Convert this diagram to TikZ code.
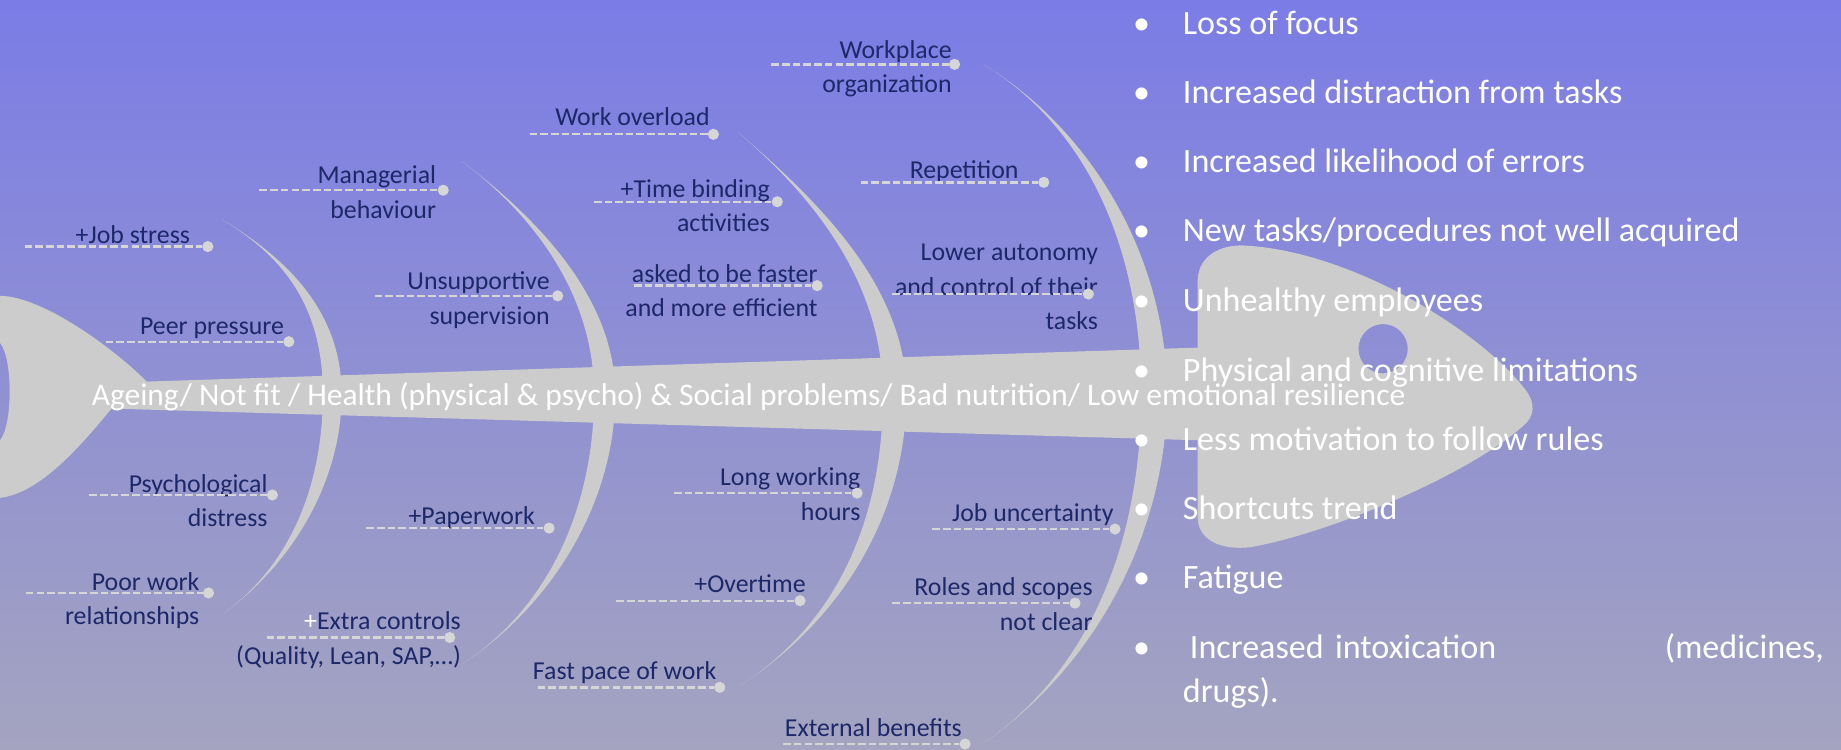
\documentclass[tikz,border=0pt]{standalone}
\usepackage{fontspec}
\setmainfont{Carlito}
\definecolor{skytop}{RGB}{123,124,230}
\definecolor{skybottom}{RGB}{164,164,192}
\definecolor{fishgrey}{RGB}{204,204,204}
\definecolor{causeblue}{RGB}{28,40,104}
\definecolor{leadgrey}{RGB}{214,214,214}

\begin{document}
\begin{tikzpicture}[
  x=1pt,y=-1pt,
  bone/.style={fill=fishgrey},
  cause/.style={text=causeblue,font=\fontsize{22}{29.5}\selectfont,align=right,anchor=base east,inner sep=0pt},
  tick/.style={circle,fill=leadgrey,minimum size=9.5pt,inner sep=0pt},
  lead/.style={draw=leadgrey,line width=2pt,dash pattern=on 6.5pt off 2.6pt},
  effect/.style={text=white,font=\fontsize{29}{38}\selectfont,anchor=base west,inner sep=0pt},
  bul/.style={text=white,font=\fontsize{29}{38}\selectfont,anchor=base,inner sep=0pt},
  spinetext/.style={text=white,font=\fontsize{26.8}{32}\selectfont,anchor=base west,inner sep=0pt},
]
\useasboundingbox (0,0) rectangle (1568,638);
\shade[top color=skytop,bottom color=skybottom] (0,0) rectangle (1568,638);

% ribs, top tip -> spine -> bottom tip and back
\fill[bone] (189,187) .. controls (248,222) and (291,268) .. (291,336)
  .. controls (291,409) and (250,479) .. (191,522)
  .. controls (250,479) and (275,409) .. (275,336)
  .. controls (275,268) and (248,222) .. cycle;
\fill[bone] (393,137) .. controls (458,186) and (524,254) .. (524,336)
  .. controls (524,428) and (470,516) .. (393,566)
  .. controls (470,516) and (506,428) .. (506,336)
  .. controls (506,254) and (458,186) .. cycle;
\fill[bone] (629,113) .. controls (698,172) and (772,245) .. (772,336)
  .. controls (772,438) and (716,529) .. (630,584)
  .. controls (716,529) and (752,438) .. (752,336)
  .. controls (752,245) and (698,172) .. cycle;
\fill[bone] (838,55) .. controls (934,114) and (994,224) .. (994,336)
  .. controls (994,452) and (934,566) .. (839,632)
  .. controls (934,566) and (972,452) .. (972,336)
  .. controls (972,224) and (934,114) .. cycle;

% tail and backbone
\fill[bone] (0,252) .. controls (35,252) and (95,295) .. (125,325) -- (1022,296)
  -- (1022,375) -- (95,348) .. controls (70,378) and (35,420) .. (0,424)
  -- (0,375) .. controls (11,362) and (11,305) .. (0,292) -- cycle;

% head, eye cut out
\fill[bone,even odd rule] (1020,296) -- (1020,240) .. controls (1020,220) and (1036,209) .. (1058,209)
  .. controls (1150,213) and (1262,282) .. (1300,333)
  .. controls (1308,344) and (1307,355) .. (1297,363)
  .. controls (1250,405) and (1130,455) .. (1065,466)
  .. controls (1040,469) and (1020,460) .. (1020,440) -- cycle
  (1178,297) circle (21);

\node[spinetext] (spine) at (78,345) {Ageing/ Not fit / Health (physical \& psycho) \& Social problems/ Bad nutrition/ Low emotional resilience};

% causes (multi-line labels sit on their last baseline)
\node[cause] (jstl) at (162,207) {+Job stress};
\node[tick] (jst) at (177,210) {}; \coordinate (jst0) at (21,210);
\node[cause] (peerl) at (242,284.6) {Peer pressure};
\node[tick] (peer) at (246,291) {}; \coordinate (peer0) at (90,291);
\node[cause] (psyl) at (228,448.6) {Psychological\\distress};
\node[tick] (psy) at (232,421.6) {}; \coordinate (psy0) at (76,421.6);
\node[cause] (poorl) at (170,532) {Poor work\\relationships};
\node[tick] (poor) at (177.6,505) {}; \coordinate (poor0) at (22,505);
\node[cause] (mgrl) at (371.6,186) {Managerial\\behaviour};
\node[tick] (mgr) at (377.5,162) {}; \coordinate (mgr0) at (221,162);
\node[cause] (unsl) at (468.4,276) {Unsupportive\\supervision};
\node[tick] (uns) at (475,252) {}; \coordinate (uns0) at (319,252);
\node[cause] (papl) at (455.7,447) {+Paperwork};
\node[tick] (pap) at (467.7,449.8) {}; \coordinate (pap0) at (312,449.8);
\node[cause] (xtrl) at (392.7,566) {{\color{white}+}Extra controls\\(Quality, Lean, SAP,…)};
\node[tick] (xtr) at (383,543) {}; \coordinate (xtr0) at (227,543);
\node[cause] (ovll) at (604.6,107) {Work overload};
\node[tick] (ovl) at (607.6,114.4) {}; \coordinate (ovl0) at (451,114.4);
\node[cause] (tbdl) at (655.8,197.3) {+Time binding\\activities};
\node[tick] (tbd) at (662,171.8) {}; \coordinate (tbd0) at (506,171.8);
\node[cause] (fstl) at (696.5,269.7) {asked to be faster\\and more efficient};
\node[tick] (fst) at (696,243.3) {}; \coordinate (fst0) at (540,243.3);
\node[cause] (lngl) at (733,443) {Long working\\hours};
\node[tick] (lng) at (730,420) {}; \coordinate (lng0) at (574,420);
\node[cause] (ovtl) at (686.3,505) {+Overtime};
\node[tick] (ovt) at (681.4,511.6) {}; \coordinate (ovt0) at (525,511.6);
\node[cause] (pacl) at (610.3,579) {Fast pace of work};
\node[tick] (pac) at (613,585.4) {}; \coordinate (pac0) at (458,585.4);
\node[cause] (wpol) at (810.7,79) {Workplace\\organization};
\node[tick] (wpo) at (813,54.8) {}; \coordinate (wpo0) at (657,54.8);
\node[cause] (repl) at (867.6,152) {Repetition};
\node[tick] (rep) at (889,155.3) {}; \coordinate (rep0) at (733,155.3);
\node[cause] (autl) at (935.4,281) {Lower autonomy\\and control of their\\tasks};
\node[tick] (aut) at (927,250.4) {}; \coordinate (aut0) at (760,250.4);
\node[cause] (jobl) at (948.6,444) {Job uncertainty};
\node[tick] (job) at (949.7,450.6) {}; \coordinate (job0) at (794,450.6);
\node[cause] (roll) at (930.8,536.6) {Roles and scopes\\not clear};
\node[tick] (rol) at (915.6,513.7) {}; \coordinate (rol0) at (760,513.7);
\node[cause] (extl) at (819.4,627.4) {External benefits};
\node[tick] (ext) at (822,633.7) {}; \coordinate (ext0) at (667,633.7);

\draw[lead] (jst0) -- (jst); \draw[lead] (peer0) -- (peer);
\draw[lead] (psy0) -- (psy); \draw[lead] (poor0) -- (poor);
\draw[lead] (mgr0) -- (mgr); \draw[lead] (uns0) -- (uns);
\draw[lead] (pap0) -- (pap); \draw[lead] (xtr0) -- (xtr);
\draw[lead] (ovl0) -- (ovl); \draw[lead] (tbd0) -- (tbd);
\draw[lead] (fst0) -- (fst); \draw[lead] (lng0) -- (lng);
\draw[lead] (ovt0) -- (ovt); \draw[lead] (pac0) -- (pac);
\draw[lead] (wpo0) -- (wpo); \draw[lead] (rep0) -- (rep);
\draw[lead] (aut0) -- (aut); \draw[lead] (job0) -- (job);
\draw[lead] (rol0) -- (rol); \draw[lead] (ext0) -- (ext);

% consequences
\node[bul] (b1) at (972.3,29.2) {•};   \node[effect] (e1) at (1007.3,29.2) {Loss of focus};
\node[bul] (b2) at (972.3,88) {•};     \node[effect] (e2) at (1007.3,88) {Increased distraction from tasks};
\node[bul] (b3) at (972.3,147) {•};    \node[effect] (e3) at (1007.3,147) {Increased likelihood of errors};
\node[bul] (b4) at (972.3,205.8) {•};  \node[effect] (e4) at (1007.3,205.8) {New tasks/procedures not well acquired};
\node[bul] (b5) at (972.3,265.5) {•};  \node[effect] (e5) at (1007.3,265.5) {Unhealthy employees};
\node[bul] (b6) at (972.3,324.6) {•};  \node[effect] (e6) at (1007.3,324.6) {Physical and cognitive limitations};
\node[bul] (b7) at (972.3,383.3) {•};  \node[effect] (e7) at (1007.3,383.3) {Less motivation to follow rules};
\node[bul] (b8) at (972.3,442.3) {•};  \node[effect] (e8) at (1007.3,442.3) {Shortcuts trend};
\node[bul] (b9) at (972.3,501) {•};    \node[effect] (e9) at (1007.3,501) {Fatigue};
\node[bul] (b10) at (972.3,560.7) {•};
\node[effect,text width=546pt,align=left] (e10) at (1007.3,560.7) {\hspace*{6pt}Increased intoxication\hfill(medicines,\\drugs).};
\end{tikzpicture}
\end{document}
